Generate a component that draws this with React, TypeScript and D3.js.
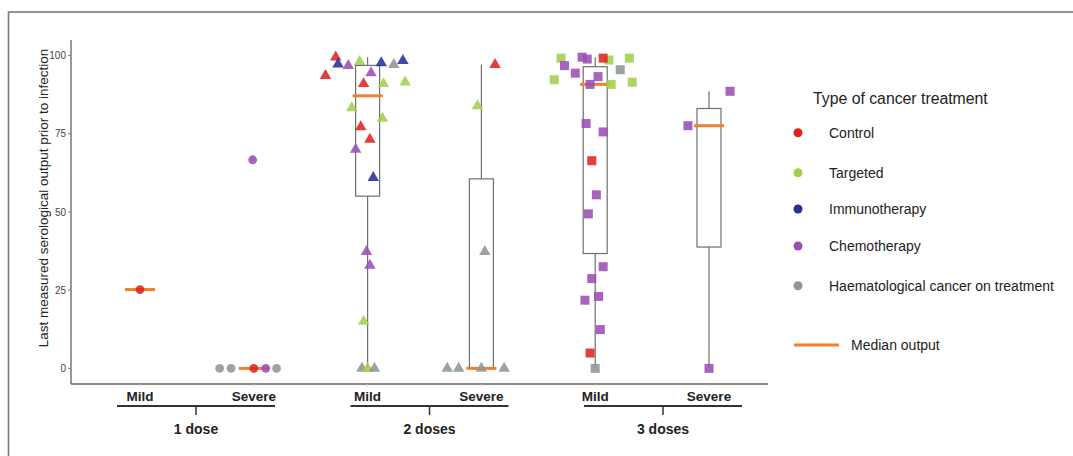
import React from "react";
import * as d3 from "d3";

// ---------- data ----------
const doseGroups = ["1 dose", "2 doses", "3 doses"];
const severities = ["Mild", "Severe"];
const treatments = [
  "Control",
  "Targeted",
  "Immunotherapy",
  "Chemotherapy",
  "Haematological cancer on treatment",
];
const treatmentColors = ["#e0231f", "#a2d04a", "#2a2c9c", "#9b4db5", "#8e9696"];
const medianColor = "#f2802b";
const yTicks = [0, 25, 50, 75, 100];

// [treatment index, value, jitter (fraction of category step)]
type Pt = [number, number, number];
const dose1Mild: Pt[] = [[0, 25.2, 0]];
const dose1Severe: Pt[] = [
  [4, 0, -0.3], [4, 0, -0.2], [0, 0, 0], [3, 0, 0.105], [4, 0, 0.2], [3, 66.7, -0.01],
];
const dose2Mild: Pt[] = [
  [0, 99.5, -0.28], [2, 97.3, -0.26], [3, 96.8, -0.17], [1, 98.1, -0.07],
  [2, 97.7, 0.12], [4, 97.1, 0.23], [2, 98.4, 0.31], [0, 93.6, -0.37],
  [3, 94.5, 0.03], [0, 91.0, -0.035], [1, 91.0, 0.14], [1, 91.5, 0.33],
  [1, 83.3, -0.14], [1, 79.9, 0.13], [0, 77.2, -0.06], [0, 73.2, 0.02],
  [3, 70.0, -0.105], [2, 61.0, 0.05], [3, 37.3, -0.01], [3, 32.9, 0.02],
  [1, 15.0, -0.035], [4, 0, -0.05], [1, 0, 0], [4, 0, 0.06],
];
const dose2Severe: Pt[] = [
  [0, 97.1, 0.12], [1, 83.9, -0.035], [4, 37.3, 0.03],
  [4, 0, -0.3], [4, 0, -0.2], [4, 0, 0], [4, 0, 0.2],
];
const dose3Mild: Pt[] = [
  [1, 99.2, -0.3], [3, 99.5, -0.115], [3, 98.9, -0.07], [1, 98.6, 0.12],
  [0, 99.2, 0.07], [1, 99.2, 0.3], [3, 96.8, -0.27], [3, 94.4, -0.175],
  [4, 95.5, 0.22], [3, 93.3, 0.025], [1, 92.3, -0.36], [1, 91.5, 0.325],
  [1, 90.8, 0.14], [3, 90.8, -0.045], [3, 78.3, -0.08], [3, 75.6, 0.07],
  [0, 66.4, -0.03], [3, 55.5, 0.01], [3, 49.4, -0.06], [3, 32.5, 0.07],
  [3, 28.7, -0.03], [3, 23.0, 0.03], [3, 21.8, -0.09], [3, 12.4, 0.045],
  [0, 4.9, -0.045], [4, 0, 0],
];
const dose3Severe: Pt[] = [[3, 88.6, 0.185], [3, 77.6, -0.185], [3, 0, 0]];

const groupPoints: Pt[][] = [dose1Mild, dose1Severe, dose2Mild, dose2Severe, dose3Mild, dose3Severe];
const groupShapes = ["circle", "circle", "triangle", "triangle", "square", "square"];

// ---------- layout ----------
const W = 1073;
const H = 456;
const FONT = "'Liberation Sans', Arial, Helvetica, sans-serif";
const panelLeft = 71;
const panelRight = 768;
const panelTop = 40;
const panelBottom = 384;

function boxStats(vals: number[]) {
  const s = vals.slice().sort(d3.ascending);
  const q1 = d3.quantile(s, 0.25)!;
  const med = d3.quantile(s, 0.5)!;
  const q3 = d3.quantile(s, 0.75)!;
  const iqr = q3 - q1;
  const lo = d3.min(s.filter((v) => v >= q1 - 1.5 * iqr))!;
  const hi = d3.max(s.filter((v) => v <= q3 + 1.5 * iqr))!;
  return { q1, med, q3, lo, hi };
}

function Shape({ kind, x, y, color }: { kind: string; x: number; y: number; color: string }) {
  if (kind === "circle") return <circle cx={x} cy={y} r={4.4} fill={color} fillOpacity={0.88} />;
  if (kind === "square")
    return <rect x={x - 4.5} y={y - 4.5} width={9} height={9} fill={color} fillOpacity={0.88} />;
  const s = 11.5;
  const h = s * 0.866;
  const path = `M${x},${y - (2 * h) / 3}L${x + s / 2},${y + h / 3}L${x - s / 2},${y + h / 3}Z`;
  return <path d={path} fill={color} fillOpacity={0.88} />;
}

export default function App() {
  const keys = doseGroups.flatMap((g) => severities.map((s) => `${g}|${s}`));
  const x = d3.scalePoint<string>().domain(keys).range([140, 709]);
  const step = x.step();
  const y = d3.scaleLinear().domain([-5, 105]).range([panelBottom, panelTop]);
  const groupX = d3.scaleLinear().domain([0, doseGroups.length - 1]).range([196, 663]);

  const boxW = 24;
  const medW = 30;

  return (
    <div style={{ position: "absolute", left: 0, top: 0 }}>
      <svg width={W} height={H} style={{ display: "block", background: "#fff" }} fontFamily={FONT}>
        <rect x={0} y={0} width={W} height={H} fill="#fff" />
        {/* outer frame */}
        <rect x={8.5} y={12} width={W + 20} height={H + 20} fill="none" stroke="#7a7a7a" strokeWidth={1.6} />

        {/* axes */}
        <line x1={panelLeft} x2={panelLeft} y1={panelTop} y2={panelBottom} stroke="#6b5e5a" strokeWidth={1.3} />
        <line x1={panelLeft} x2={panelRight} y1={panelBottom} y2={panelBottom} stroke="#6b5e5a" strokeWidth={1.3} />
        {yTicks.map((t) => (
          <g key={t}>
            <line x1={panelLeft - 3} x2={panelLeft} y1={y(t)} y2={y(t)} stroke="#777" strokeWidth={1} />
            <text x={panelLeft - 5} y={y(t)} dy="0.35em" textAnchor="end" fontSize={10} fill="#444">
              {t}
            </text>
          </g>
        ))}
        {keys.map((k) => (
          <line key={k} x1={x(k)!} x2={x(k)!} y1={panelBottom} y2={panelBottom + 3} stroke="#ccc" strokeWidth={0.8} />
        ))}
        <text
          transform={`translate(43,${(panelTop + panelBottom) / 2 - 14}) rotate(-90)`}
          textAnchor="middle"
          dy="0.35em"
          fontSize={13.5}
          fill="#222"
        >
          Last measured serological output prior to infection
        </text>

        {/* boxes */}
        {keys.map((k, i) => {
          const st = boxStats(groupPoints[i].map((p) => p[1]));
          const cx = x(k)!;
          return (
            <g key={k}>
              <line x1={cx} x2={cx} y1={y(st.q3)} y2={y(st.hi)} stroke="#6f6f6f" strokeWidth={1.2} />
              <line x1={cx} x2={cx} y1={y(st.q1)} y2={y(st.lo)} stroke="#6f6f6f" strokeWidth={1.2} />
              <rect
                x={cx - boxW / 2}
                y={y(st.q3)}
                width={boxW}
                height={Math.max(0, y(st.q1) - y(st.q3))}
                fill="none"
                stroke="#6f6f6f"
                strokeWidth={1.2}
              />
              <line x1={cx - medW / 2} x2={cx + medW / 2} y1={y(st.med)} y2={y(st.med)} stroke={medianColor} strokeWidth={3} />
            </g>
          );
        })}

        {/* points */}
        {keys.map((k, i) =>
          groupPoints[i].map((p, j) => (
            <Shape
              key={`${k}-${j}`}
              kind={groupShapes[i]}
              x={x(k)! + p[2] * step}
              y={y(p[1])}
              color={treatmentColors[p[0]]}
            />
          ))
        )}

        {/* category labels */}
        {keys.map((k) => (
          <text key={k} x={x(k)!} y={396} dy="0.35em" textAnchor="middle" fontSize={13.5} fontWeight="bold" fill="#222">
            {k.split("|")[1]}
          </text>
        ))}
        {doseGroups.map((g, i) => {
          const cx = groupX(i);
          return (
            <g key={g}>
              <line x1={cx - 79} x2={cx + 79} y1={406} y2={406} stroke="#333" strokeWidth={2} />
              <line x1={cx} x2={cx} y1={406} y2={415} stroke="#333" strokeWidth={1.5} />
              <text x={cx} y={429} dy="0.35em" textAnchor="middle" fontSize={14} fontWeight="bold" fill="#222">
                {g}
              </text>
            </g>
          );
        })}

        {/* legend */}
        <text x={813} y={98} dy="0.35em" fontSize={15.8} fill="#222">
          Type of cancer treatment
        </text>
        {treatments.map((t, i) => {
          const ly = [132.7, 172.7, 209, 246, 285.7][i];
          return (
            <g key={t}>
              <circle cx={798} cy={ly} r={4.5} fill={treatmentColors[i]} />
              <text x={829} y={ly} dy="0.35em" fontSize={14} fill="#222">
                {t}
              </text>
            </g>
          );
        })}
        <line x1={794} x2={839} y1={345} y2={345} stroke={medianColor} strokeWidth={3} />
        <text x={851} y={345} dy="0.35em" fontSize={14} fill="#222">
          Median output
        </text>
      </svg>
    </div>
  );
}
